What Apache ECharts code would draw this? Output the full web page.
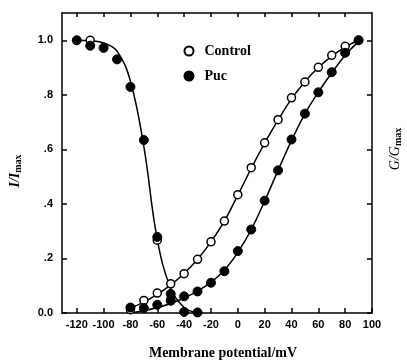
<!DOCTYPE html>
<html><head><meta charset="utf-8">
<script src="https://cdn.jsdelivr.net/npm/echarts@6/dist/echarts.min.js"></script>
<style>html,body{margin:0;padding:0;background:#fff}#c{width:407px;height:363px}</style>
</head><body><div id="c"></div>
<script>
// Tick values
const xTicks = [-120,-100,-80,-60,-40,-20,0,20,40,60,80,100];
const yTicks = [0,0.2,0.4,0.6,0.8,1.0];
const yTickLabels = ['0.0','.2','.4','.6','.8','1.0'];

// Activation (G/Gmax) data points
const controlAct = [[-80,0.012],[-70,0.046],[-60,0.073],[-50,0.107],[-40,0.144],[-30,0.197],[-20,0.261],[-10,0.337],[0,0.434],[10,0.533],[20,0.624],[30,0.709],[40,0.789],[50,0.847],[60,0.901],[70,0.945],[80,0.978],[90,1.0]];
const pucAct = [[-80,0.02],[-70,0.018],[-60,0.03],[-50,0.045],[-40,0.061],[-30,0.079],[-20,0.111],[-10,0.153],[0,0.227],[10,0.306],[20,0.412],[30,0.523],[40,0.636],[50,0.731],[60,0.809],[70,0.883],[80,0.954],[90,1.0]];

// Inactivation (I/Imax) data points
const pucInact = [[-120,1.0],[-110,0.98],[-100,0.972],[-90,0.93],[-80,0.829],[-70,0.634],[-60,0.279],[-50,0.07],[-40,0.004],[-30,0.002]];
const controlInact = [[-110,1.0],[-60,0.267],[-50,0.049]];

// Fitted curves
const inactCurve = [[-120,1.0],[-110,0.998],[-100,0.99],[-90,0.96],[-80,0.85],[-70,0.61],[-60,0.27],[-50,0.09],[-40,0.02],[-32,0.003]];
const controlCurve = [[-80,0.018],[-70,0.04],[-60,0.068],[-50,0.103],[-40,0.145],[-30,0.197],[-20,0.261],[-10,0.337],[0,0.432],[10,0.53],[20,0.623],[30,0.707],[40,0.785],[50,0.848],[60,0.9],[70,0.942],[80,0.975],[90,1.0]];
const pucCurve = [[-80,0.0],[-70,0.008],[-60,0.02],[-50,0.035],[-40,0.055],[-30,0.08],[-20,0.113],[-10,0.157],[0,0.222],[10,0.306],[20,0.41],[30,0.523],[40,0.632],[50,0.73],[60,0.81],[70,0.88],[80,0.945],[90,0.995]];

const chart = echarts.init(document.getElementById('c'));
const tickFont = {fontFamily:'Liberation Sans, Arial, sans-serif', fontWeight:'bold', fontSize:11, color:'#000'};
const lineStyle = {color:'#000', width:1.5};
const openStyle = {color:'#fff', borderColor:'#000', borderWidth:1.5, opacity:1};
const fillStyle = {color:'#000', borderColor:'#000', borderWidth:1, opacity:1};
const axLine = {show:true, onZero:false, lineStyle:{color:'#000', width:1.5}};

chart.setOption({
  animation:false,
  grid:{left:62, right:35, top:13, bottom:50},
  legend:{
    orient:'vertical', left:178.5, top:39, itemGap:11, itemWidth:9, itemHeight:9,
    data:[{name:'Control', icon:'circle'},{name:'Puc', icon:'circle'}],
    textStyle:{fontFamily:'Liberation Serif, Times New Roman, serif', fontWeight:'bold', fontSize:14, color:'#000', padding:[0,0,0,6]}
  },
  xAxis:[
    {type:'value', min:-131, max:100, position:'bottom',
     axisLine:axLine,
     axisTick:{inside:true, length:5, lineStyle:{color:'#000', width:1.5}, customValues:xTicks},
     axisLabel:Object.assign({margin:6, customValues:xTicks}, tickFont),
     splitLine:{show:false}},
    {type:'value', min:-131, max:100, position:'top',
     axisLine:axLine,
     axisTick:{inside:true, length:4, lineStyle:{color:'#000', width:1.5}, customValues:xTicks.slice(0,11)},
     axisLabel:{show:false}, splitLine:{show:false}}
  ],
  yAxis:[
    {type:'value', min:0, max:1.1, position:'left',
     axisLine:axLine,
     axisTick:{show:true, inside:true, length:5, lineStyle:{color:'#000', width:1.5}, customValues:yTicks},
     axisLabel:Object.assign({margin:9, customValues:yTicks, formatter:function(v){const i=yTicks.findIndex(t=>Math.abs(t-v)<1e-6);return i>=0?yTickLabels[i]:'';}}, tickFont),
     splitLine:{show:false}},
    {type:'value', min:0, max:1.1, position:'right',
     axisLine:axLine,
     axisTick:{show:true, inside:true, length:5, lineStyle:{color:'#000', width:1.5}, customValues:yTicks},
     axisLabel:{show:false}, splitLine:{show:false}}
  ],
  graphic:[
    {type:'text', x:15, y:171, rotation:Math.PI/2, style:{
      text:'{a|I/I}{b|max}', align:'center', verticalAlign:'middle',
      rich:{a:{fontFamily:'Liberation Serif, Times New Roman, serif', fontStyle:'italic', fontWeight:'bold', fontSize:14, fill:'#000'},
            b:{fontFamily:'Liberation Serif, Times New Roman, serif', fontWeight:'bold', fontSize:10, fill:'#000', padding:[6,0,0,0]}}}},
    {type:'text', x:395, y:149, rotation:Math.PI/2, style:{
      text:'{a|G/G}{b|max}', align:'center', verticalAlign:'middle',
      rich:{a:{fontFamily:'Liberation Serif, Times New Roman, serif', fontStyle:'italic', fontSize:14, fill:'#000'},
            b:{fontFamily:'Liberation Serif, Times New Roman, serif', fontWeight:'bold', fontSize:10, fill:'#000', padding:[6,0,0,0]}}}},
    {type:'text', x:223, y:353, style:{text:'Membrane potential/mV', align:'center', verticalAlign:'middle',
      fontFamily:'Liberation Serif, Times New Roman, serif', fontWeight:'bold', fontSize:14, fill:'#000'}}
  ],
  series:[
    {type:'line', data:inactCurve, smooth:0.4, showSymbol:false, lineStyle:lineStyle, z:1, silent:true},
    {type:'line', data:controlCurve, smooth:0.4, showSymbol:false, lineStyle:lineStyle, z:1, silent:true},
    {type:'line', data:pucCurve, smooth:0.4, showSymbol:false, lineStyle:lineStyle, z:1, silent:true},
    {name:'Control', type:'scatter', data:controlAct, symbol:'circle', symbolSize:8, itemStyle:openStyle, z:3},
    {name:'Control', type:'scatter', data:controlInact, symbol:'circle', symbolSize:8, itemStyle:openStyle, z:2},
    {name:'Puc', type:'scatter', data:pucAct, symbol:'circle', symbolSize:9, itemStyle:fillStyle, z:4},
    {name:'Puc', type:'scatter', data:pucInact, symbol:'circle', symbolSize:9, itemStyle:fillStyle, z:4}
  ]
});
</script></body></html>
